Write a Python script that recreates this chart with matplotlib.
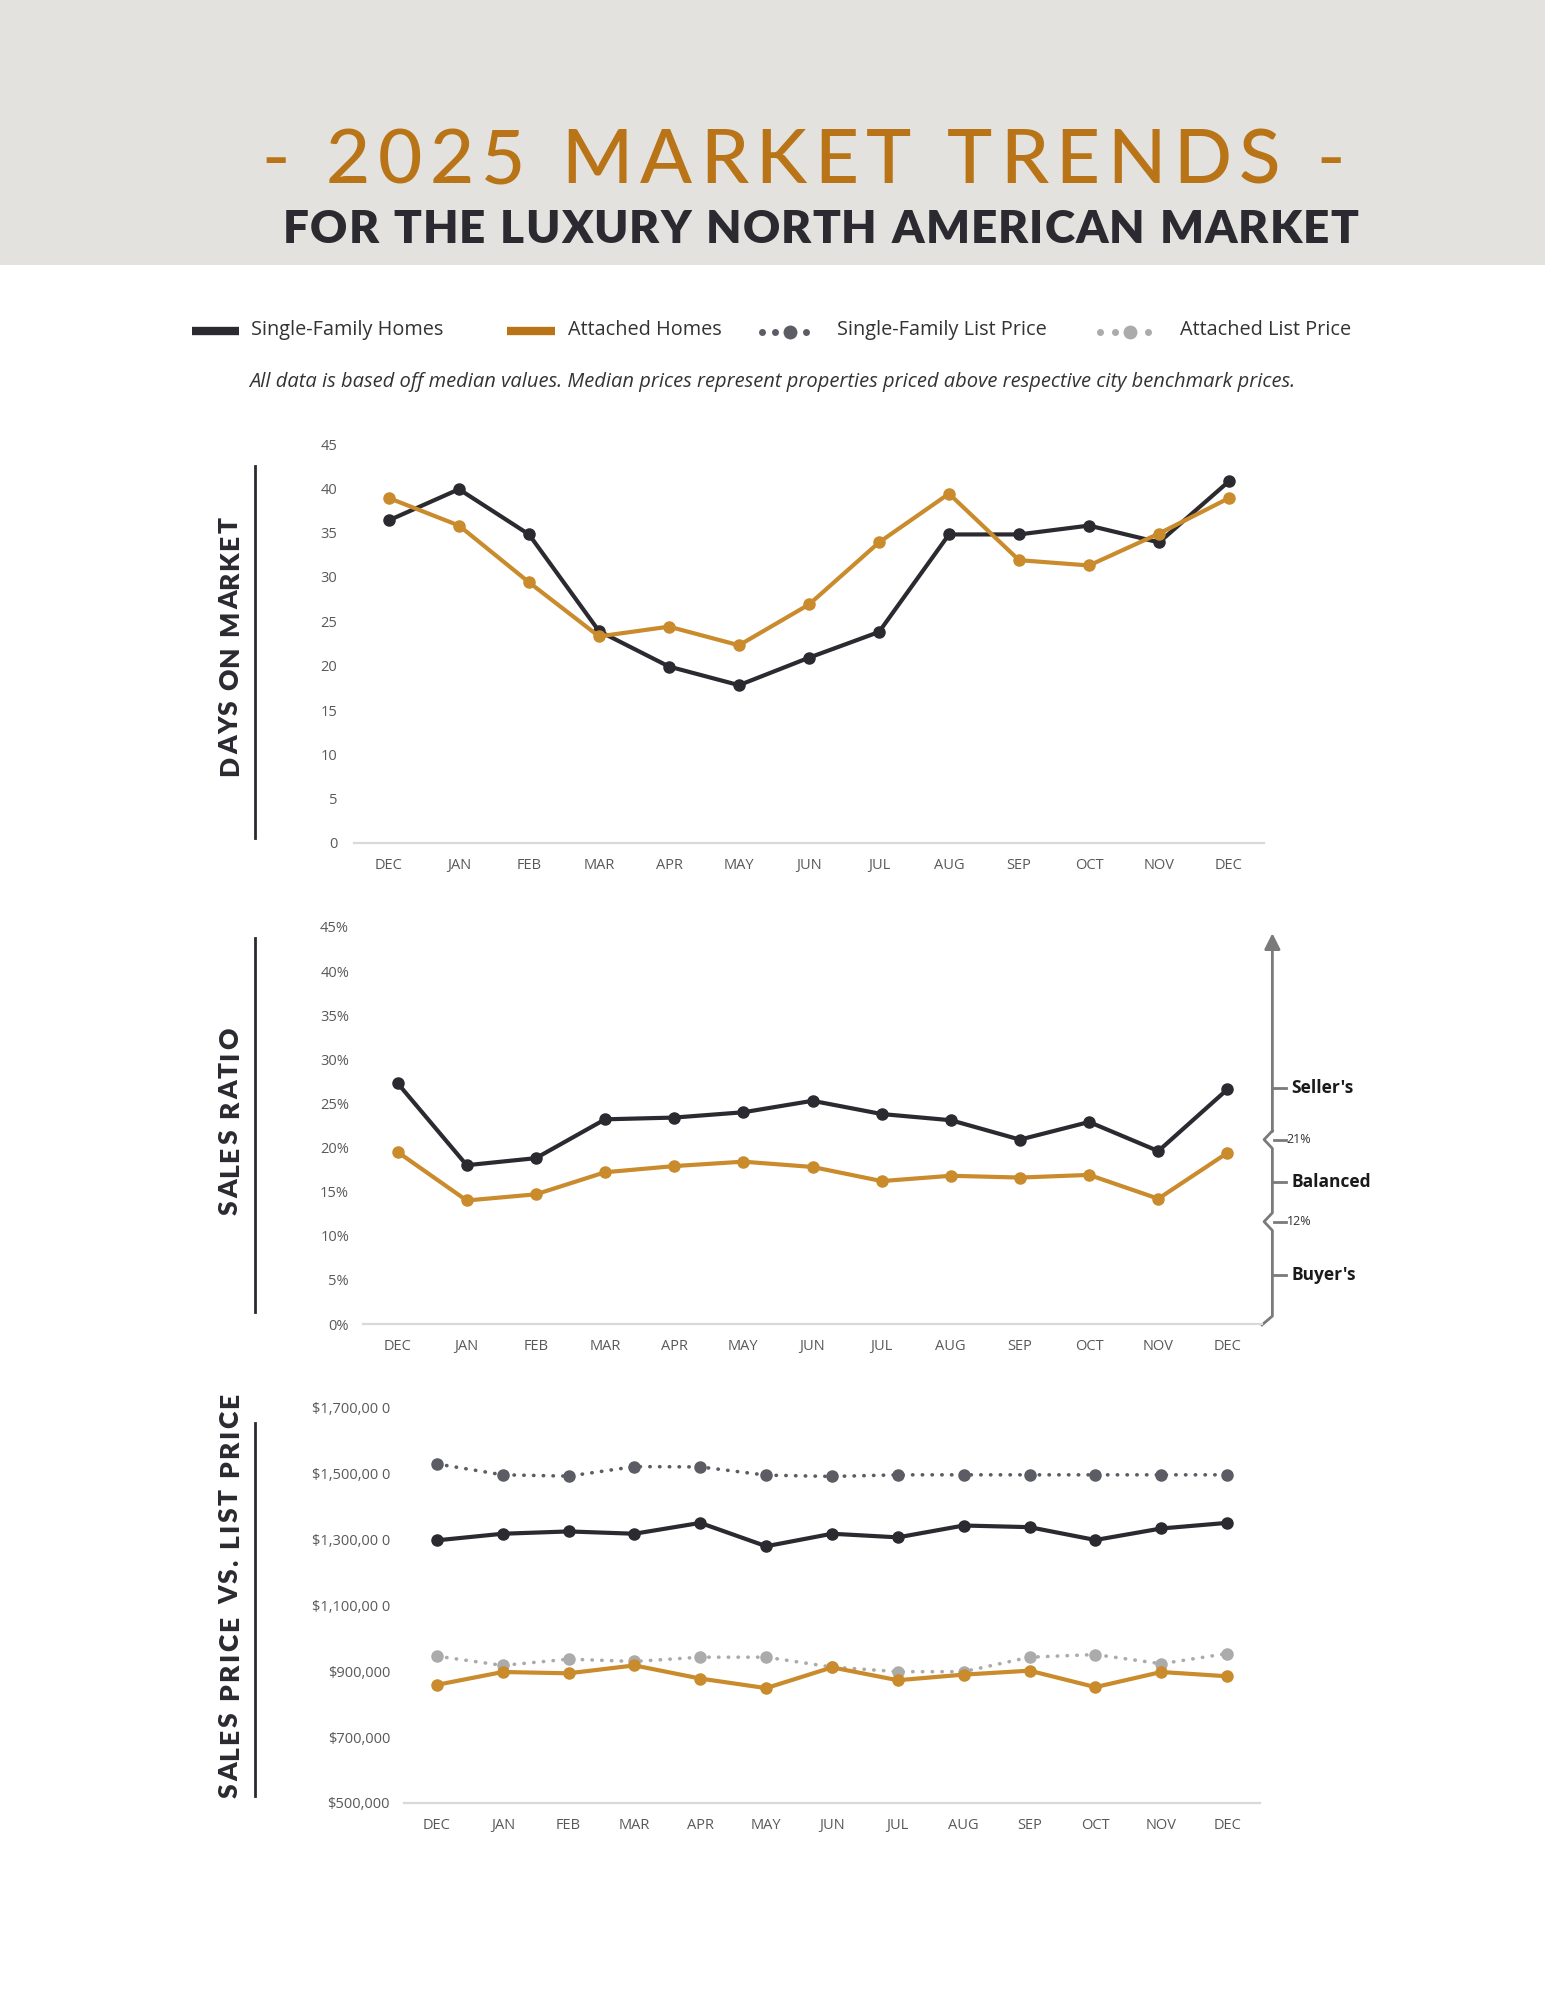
import numpy as np
import matplotlib.pyplot as plt
from matplotlib.font_manager import FontProperties

plt.rcParams['font.family'] = ['Open Sans', 'DejaVu Sans']

W, H, DPI = 1545, 2000, 100

months = ['DEC', 'JAN', 'FEB', 'MAR', 'APR', 'MAY', 'JUN',
          'JUL', 'AUG', 'SEP', 'OCT', 'NOV', 'DEC']

# days on market
dom_single = [36.4, 39.9, 34.8, 23.9, 19.9, 17.8, 20.9, 23.8, 34.8, 34.8, 35.8, 33.9, 40.8]
dom_attached = [38.9, 35.8, 29.4, 23.3, 24.4, 22.3, 26.9, 33.9, 39.4, 31.9, 31.3, 34.9, 38.9]

# sales ratio (%)
ratio_single = [27.3, 18.0, 18.8, 23.2, 23.4, 24.0, 25.3, 23.8, 23.1, 20.9, 22.9, 19.6, 26.6]
ratio_attached = [19.5, 14.0, 14.7, 17.2, 17.9, 18.4, 17.8, 16.2, 16.8, 16.6, 16.9, 14.2, 19.4]

# sales price vs list price
price_single = [1298000, 1318000, 1325000, 1318000, 1351000, 1280000, 1318000,
                1307000, 1343000, 1338000, 1299000, 1334000, 1351000]
price_attached = [859000, 898000, 894000, 918000, 878000, 849000, 912000,
                  873000, 890000, 902000, 852000, 898000, 885000]
list_single = [1530000, 1497000, 1493000, 1522000, 1521000, 1496000, 1492000,
               1497000, 1497000, 1497000, 1497000, 1497000, 1497000]
list_attached = [946000, 918000, 937000, 930000, 943000, 943000, 913000,
                 899000, 899000, 943000, 951000, 923000, 954000]

price_ticks = [500000, 700000, 900000, 1100000, 1300000, 1500000, 1700000]
price_labels = ['$500,000', '$700,000', '$900,000', '$1,100,00 0',
                '$1,300,00 0', '$1,500,00 0', '$1,700,00 0']

BLACK = '#2b2a30'
ORANGE = '#c98b2b'
GOLD = '#b87416'
DGREY = '#5c5c64'
LGREY = '#ababab'
TXT = '#595959'

fig = plt.figure(figsize=(W / DPI, H / DPI), dpi=DPI)
fig.patch.set_facecolor('white')
renderer = fig.canvas.get_renderer()

# overlay in pixel coords for header / legend / side labels
ov = fig.add_axes([0, 0, 1, 1], zorder=0)
ov.set_xlim(0, W)
ov.set_ylim(H, 0)
ov.axis('off')

ov.add_patch(plt.Rectangle((0, 0), W, 265, color='#e3e2df', lw=0))


def spaced(x0, x1, base, s, prop, color, vertical=False):
    # letter-spaced text filling x0..x1 (pixels)
    px = prop.get_size_in_points() * DPI / 72
    widths = []
    for c in s:
        if c == ' ':
            widths.append(0.28 * px)
        else:
            t = ov.text(0, 0, c, fontproperties=prop)
            widths.append(t.get_window_extent(renderer).width)
            t.remove()
    gap = (abs(x1 - x0) - sum(widths)) / (len(s) - 1)
    pos = x0
    step = -1 if vertical else 1
    for c, w in zip(s, widths):
        if c != ' ':
            if vertical:
                ov.text(base, pos, c, fontproperties=prop, color=color, rotation=90,
                        rotation_mode='anchor', ha='left', va='baseline')
            else:
                ov.text(pos, base, c, fontproperties=prop, color=color,
                        ha='left', va='baseline')
        pos += step * (w + gap)


title_fp = FontProperties(family='Lato', weight='medium', size=55)
spaced(261, 1345, 183, '- 2025 MARKET TRENDS -', title_fp, GOLD)
sub_fp = FontProperties(family='Lato', weight='heavy', size=33)
spaced(283, 1358, 243, 'FOR THE LUXURY NORTH AMERICAN MARKET', sub_fp, BLACK)

# legend
ov.plot([192, 239], [331, 331], color=BLACK, lw=6, solid_capstyle='butt')
ov.text(251, 330, 'Single-Family Homes', fontsize=14.3, color='#333333', va='center')
ov.plot([507, 555], [331, 331], color=GOLD, lw=6, solid_capstyle='butt')
ov.text(568, 330, 'Attached Homes', fontsize=14.3, color='#333333', va='center')
for x, m in zip([762, 775, 790, 806], [5, 5, 10, 5]):
    ov.plot(x, 332, 'o', color=DGREY, ms=m, mew=0)
ov.text(837, 330, 'Single-Family List Price', fontsize=14.3, color='#333333', va='center')
for x, m in zip([1100, 1115, 1130, 1148], [5, 5, 10, 5]):
    ov.plot(x, 332, 'o', color=LGREY, ms=m, mew=0)
ov.text(1180, 330, 'Attached List Price', fontsize=14.3, color='#333333', va='center')

ov.text(772, 382, 'All data is based off median values. Median prices represent '
        'properties priced above respective city benchmark prices.',
        fontsize=14.5, style='italic', color='#333333', ha='center', va='center')

# side labels
side_fp = FontProperties(family='Lato', weight='heavy', size=19)
spaced(776, 517, 238, 'DAYS ON MARKET', side_fp, BLACK, vertical=True)
spaced(1215, 1028, 238, 'SALES RATIO', side_fp, BLACK, vertical=True)
spaced(1798, 1393, 238, 'SALES PRICE VS. LIST PRICE', side_fp, BLACK, vertical=True)
for y0, y1 in [(466, 838), (938, 1312), (1423, 1796)]:
    ov.plot([255, 255], [y0, y1], color=BLACK, lw=2)


def chart(left, right, top, bottom):
    ax = fig.add_axes([left / W, 1 - bottom / H, (right - left) / W, (bottom - top) / H], zorder=1)
    ax.set_facecolor('none')
    ax.set_xlim(-0.5, 12.5)
    ax.set_xticks(range(13))
    ax.set_xticklabels(months)
    for s in ['top', 'right', 'left']:
        ax.spines[s].set_visible(False)
    ax.spines['bottom'].set_color('#d9d9d9')
    ax.spines['bottom'].set_linewidth(1.6)
    ax.tick_params(length=0, labelsize=10.5, labelcolor=TXT)
    ax.tick_params(axis='x', pad=11)
    return ax


x = np.arange(13)

# chart 1 - days on market
ax1 = chart(354, 1264, 444, 843)
ax1.set_ylim(0, 45)
ax1.set_yticks(range(0, 46, 5))
ax1.tick_params(axis='y', pad=12)
ax1.plot(x, dom_single, color=BLACK, lw=3, marker='o', ms=8, clip_on=False)
ax1.plot(x, dom_attached, color=ORANGE, lw=3, marker='o', ms=8, clip_on=False)

# chart 2 - sales ratio
ax2 = chart(363, 1262, 927, 1324)
ax2.set_ylim(0, 45)
ax2.set_yticks(range(0, 46, 5))
ax2.set_yticklabels([f'{v}%' for v in range(0, 46, 5)])
ax2.tick_params(axis='y', pad=10)
ax2.plot(x, ratio_single, color=BLACK, lw=3, marker='o', ms=8, clip_on=False)
ax2.plot(x, ratio_attached, color=ORANGE, lw=3, marker='o', ms=8, clip_on=False)

bx, nx = 12.65, 12.53
ax2.plot([12.5, bx, bx, nx, bx, bx, nx, bx], [-0.1, 0.9, 10.6, 11.6, 12.6, 19.9, 20.9, 21.9],
         color='#7a7a7a', lw=2, clip_on=False)
ax2.annotate('', xy=(bx, 44.3), xytext=(bx, 21.8), annotation_clip=False,
             arrowprops=dict(arrowstyle='-|>', color='#7a7a7a', lw=2, mutation_scale=24,
                             shrinkA=0, shrinkB=0))
for yv, lab in [(26.8, "Seller's"), (16.1, 'Balanced'), (5.5, "Buyer's")]:
    ax2.plot([bx, bx + 0.2], [yv, yv], color='#7a7a7a', lw=2, clip_on=False)
    ax2.text(bx + 0.27, yv, lab, fontsize=12.5, fontweight='bold', color='#1a1a1a',
             va='center', ha='left', clip_on=False)
for yv, lab in [(20.9, '21%'), (11.6, '12%')]:
    ax2.plot([bx + 0.03, bx + 0.19], [yv, yv], color='#7a7a7a', lw=2, clip_on=False)
    ax2.text(bx + 0.21, yv, lab, fontsize=9, color='#333333', va='center', ha='left')

# chart 3 - sales price vs list price
ax3 = chart(404, 1260, 1408, 1803)
ax3.set_ylim(500000, 1700000)
ax3.set_yticks(price_ticks)
ax3.set_yticklabels(price_labels)
ax3.tick_params(axis='y', pad=10)
ax3.plot(x, list_single, color=DGREY, lw=2.6, ls=(0, (0.1, 2.6)), dash_capstyle='round',
         marker='o', ms=8, clip_on=False)
ax3.plot(x, list_attached, color=LGREY, lw=2.6, ls=(0, (0.1, 2.6)), dash_capstyle='round',
         marker='o', ms=8, clip_on=False)
ax3.plot(x, price_single, color=BLACK, lw=3, marker='o', ms=8, clip_on=False)
ax3.plot(x, price_attached, color=ORANGE, lw=3, marker='o', ms=8, clip_on=False)

fig.savefig('out.png', dpi=DPI, facecolor='white')
